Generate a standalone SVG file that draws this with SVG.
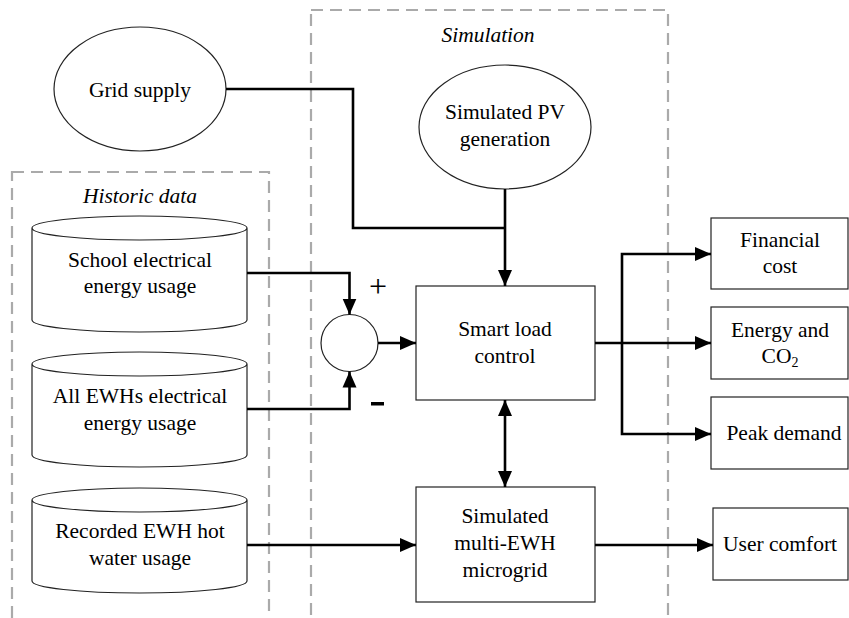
<svg xmlns="http://www.w3.org/2000/svg" width="849" height="618" viewBox="0 0 849 618" font-family="'Liberation Serif', 'Times New Roman', Times, 'DejaVu Serif', serif">
<style>
text{font-family:'Liberation Serif','Times New Roman',Times,'DejaVu Serif',serif;font-size:21.5px;fill:#000;text-anchor:middle}
.it{font-style:italic}
.node{fill:#fff;stroke:#222;stroke-width:1.2}
.grp{fill:none;stroke:#aaa;stroke-width:2.2;stroke-dasharray:12 7}
.c{fill:none;stroke:#000;stroke-width:2.6}
</style>
<defs>
<marker id="ah" markerUnits="userSpaceOnUse" markerWidth="16" markerHeight="16" refX="16" refY="8" orient="auto-start-reverse" viewBox="0 0 16 16">
<path d="M0,1 L16,8 L0,15 Z" fill="#000"/>
</marker>
</defs>
<g id="group-simulation">
<rect class="grp" x="311" y="10" width="357" height="620"/>
<text class="it" x="488" y="42">Simulation</text>
</g>
<g id="group-historic">
<rect class="grp" x="12" y="172" width="257" height="460"/>
<text class="it" x="140" y="203">Historic data</text>
</g>
<g id="grid-supply">
<ellipse class="node" cx="140" cy="89" rx="86" ry="62"/>
<text x="140" y="97">Grid supply</text>
</g>
<g id="pv">
<ellipse class="node" cx="505" cy="127" rx="86" ry="62"/>
<text x="505" y="119">Simulated PV</text>
<text x="505" y="146">generation</text>
</g>
<g id="school">
<path class="node" d="M32,228 V320 A107.5,12 0 0 0 247,320 V228 A107.5,12 0 0 0 32,228 A107.5,12 0 0 0 247,228"/>
<text x="140" y="267">School electrical</text>
<text x="140" y="293">energy usage</text>
</g>
<g id="ewhs">
<path class="node" d="M32,364 V455 A107.5,12 0 0 0 247,455 V364 A107.5,12 0 0 0 32,364 A107.5,12 0 0 0 247,364"/>
<text x="140" y="403">All EWHs electrical</text>
<text x="140" y="430">energy usage</text>
</g>
<g id="recorded">
<path class="node" d="M32,500 V581 A107.5,12 0 0 0 247,581 V500 A107.5,12 0 0 0 32,500 A107.5,12 0 0 0 247,500"/>
<text x="140" y="538">Recorded EWH hot</text>
<text x="140" y="565">water usage</text>
</g>
<g id="sum">
<circle class="node" cx="349.5" cy="343" r="28.5"/>
<text x="378" y="297" style="font-size:32px">+</text>
<rect x="371" y="402" width="13" height="3.5" fill="#000"/>
</g>
<g id="smart-load">
<rect class="node" x="416" y="286" width="179" height="114"/>
<text x="505" y="336">Smart load</text>
<text x="505" y="363">control</text>
</g>
<g id="microgrid">
<rect class="node" x="416" y="487" width="179" height="115"/>
<text x="505" y="523">Simulated</text>
<text x="505" y="550">multi-EWH</text>
<text x="505" y="577">microgrid</text>
</g>
<g id="financial">
<rect class="node" x="711" y="218" width="137" height="71"/>
<text x="780" y="247">Financial</text>
<text x="780" y="273">cost</text>
</g>
<g id="energy">
<rect class="node" x="711" y="307" width="137" height="72"/>
<text x="780" y="337">Energy and</text>
<text x="780" y="363">CO<tspan style="font-size:14px" dy="4">2</tspan></text>
</g>
<g id="peak">
<rect class="node" x="711" y="397" width="137" height="72"/>
<text x="784" y="440">Peak demand</text>
</g>
<g id="comfort">
<rect class="node" x="713" y="508" width="135" height="72"/>
<text x="780" y="551">User comfort</text>
</g>
<g id="connectors">
<path class="c" d="M226,89 H353 V228 H505"/>
<path class="c" d="M505,189 V286" marker-end="url(#ah)"/>
<path class="c" d="M247,273 H349.5 V314.5" marker-end="url(#ah)"/>
<path class="c" d="M247,409 H349.5 V371.5" marker-end="url(#ah)"/>
<path class="c" d="M378,343 H416" marker-end="url(#ah)"/>
<path class="c" d="M505,400 V487" marker-start="url(#ah)" marker-end="url(#ah)"/>
<path class="c" d="M247,545 H416" marker-end="url(#ah)"/>
<path class="c" d="M595,343 H711" marker-end="url(#ah)"/>
<path class="c" d="M711,254 H622 V434 H711" marker-start="url(#ah)" marker-end="url(#ah)"/>
<path class="c" d="M595,545 H713" marker-end="url(#ah)"/>
</g>
</svg>
